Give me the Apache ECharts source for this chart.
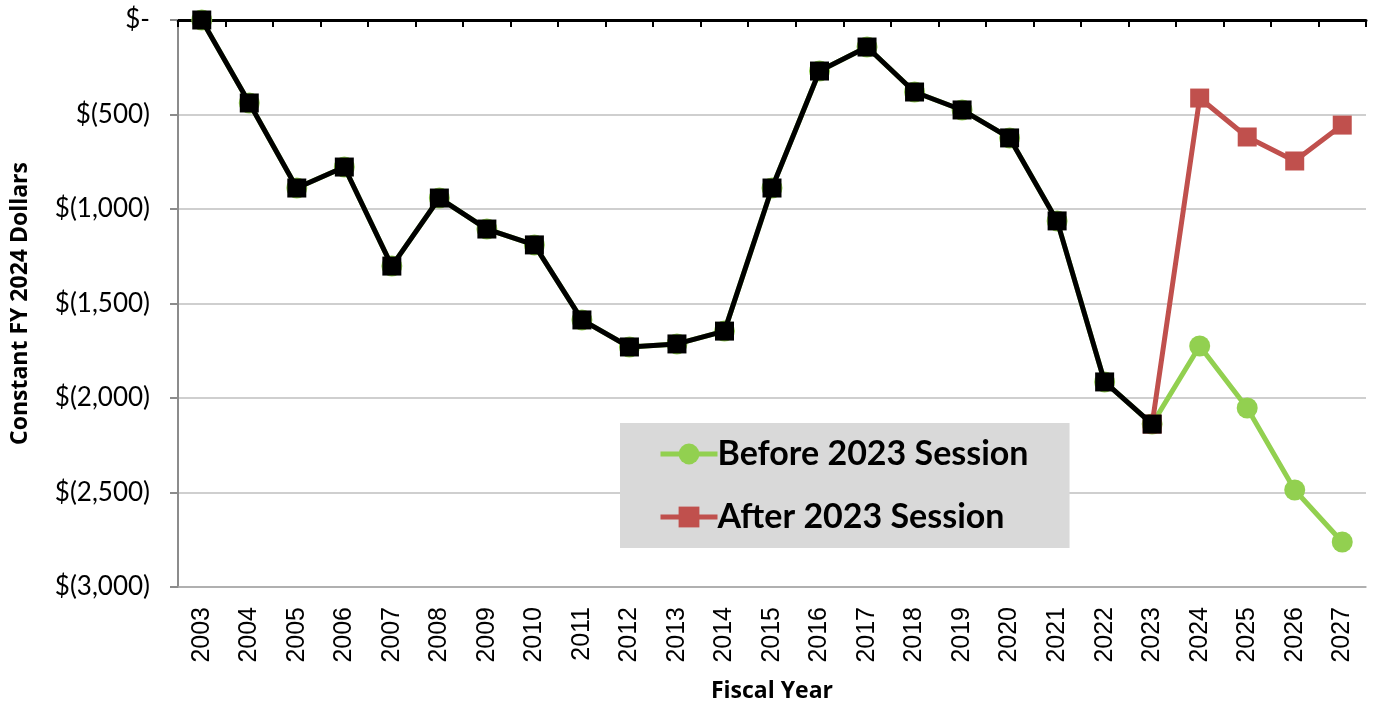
<!DOCTYPE html>
<html>
<head>
<meta charset="utf-8">
<script src="https://cdn.jsdelivr.net/npm/echarts@6/dist/echarts.min.js"></script>
<style>
html,body{margin:0;padding:0;background:#fff;}
#chart{width:1374px;height:706px;}
</style>
</head>
<body>
<div id="chart"></div>
<script>
const years = ['2003','2004','2005','2006','2007','2008','2009','2010','2011','2012','2013','2014','2015','2016','2017','2018','2019','2020','2021','2022','2023','2024','2025','2026','2027'];
const actual = [0,-439,-889,-778,-1302,-942,-1106,-1190,-1587,-1730,-1714,-1646,-889,-270,-143,-381,-476,-624,-1063,-1915,-2138];
const beforeProj = [-1725,-2053,-2487,-2762];
const afterProj = [-413,-619,-746,-556];
const yTicks = {min:-3000, max:0, step:500};

const beforeData = actual.concat(beforeProj);
const afterData = years.map((y,i)=> i < actual.length-1 ? null : (i === actual.length-1 ? actual[i] : afterProj[i-actual.length]));
const actualData = years.map((y,i)=> i < actual.length ? actual[i] : null);

function fmt(v){
  if (v === 0) return '$-';
  return '$(' + Math.abs(v).toLocaleString('en-US') + ')';
}

const chart = echarts.init(document.getElementById('chart'));
chart.setOption({
  animation:false,
  backgroundColor:'#fff',
  grid:{left:178, right:8, top:20, bottom:119, containLabel:false, outerBoundsMode:'none'},
  legend:{
    data:['Before 2023 Session','After 2023 Session'],
    orient:'vertical',
    left:620, top:423,
    backgroundColor:'#d9d9d9',
    padding:[12,41,12,38],
    itemWidth:57, itemHeight:26, itemGap:25,
    lineStyle:{width:5},
    textStyle:{fontFamily:'Lato', fontWeight:'bold', fontSize:34, color:'#000', lineHeight:38, padding:[0,0,0,-5]}
  },
  xAxis:[{
    type:'category', data:years, position:'bottom', boundaryGap:true,
    axisLine:{onZero:false, lineStyle:{color:'#a6a6a6', width:1.5}},
    axisTick:{show:false},
    axisLabel:{rotate:90, fontFamily:'Liberation Sans', fontSize:25, color:'#000', margin:20},
    name:'Fiscal Year', nameLocation:'middle', nameGap:93,
    nameTextStyle:{fontFamily:'Open Sans', fontWeight:'bold', fontSize:23, color:'#000'}
  },{
    type:'category', data:years, position:'top', boundaryGap:true,
    axisLine:{onZero:false, lineStyle:{color:'#000', width:3}},
    axisTick:{show:true, inside:true, length:7, lineStyle:{color:'#000', width:2}},
    axisLabel:{show:false}
  }],
  yAxis:{
    type:'value', min:yTicks.min, max:yTicks.max, interval:yTicks.step,
    axisLine:{show:true, lineStyle:{color:'#8c8c8c', width:2}},
    axisTick:{show:true, length:8, lineStyle:{color:'#8c8c8c', width:2}},
    splitLine:{lineStyle:{color:'#bfbfbf', width:1.5}},
    axisLabel:{formatter:fmt, fontFamily:'Lato', fontSize:26, color:'#000', margin:28},
    name:'Constant FY 2024 Dollars', nameLocation:'middle', nameGap:146,
    nameTextStyle:{fontFamily:'Open Sans', fontWeight:'bold', fontSize:23, color:'#000'}
  },
  series:[{
    name:'Before 2023 Session', type:'line', data:beforeData, z:2,
    symbol:'circle', symbolSize:21, showAllSymbol:true,
    lineStyle:{color:'#92d050', width:5}, itemStyle:{color:'#92d050'}
  },{
    name:'After 2023 Session', type:'line', data:afterData, z:3,
    symbol:'rect', symbolSize:19, showAllSymbol:true,
    lineStyle:{color:'#c0504d', width:5}, itemStyle:{color:'#c0504d'}
  },{
    name:'Actual', type:'line', data:actualData, z:4,
    symbol:'rect', symbolSize:19, showAllSymbol:true,
    lineStyle:{color:'#000', width:5}, itemStyle:{color:'#000'}
  }]
});
</script>
</body>
</html>
